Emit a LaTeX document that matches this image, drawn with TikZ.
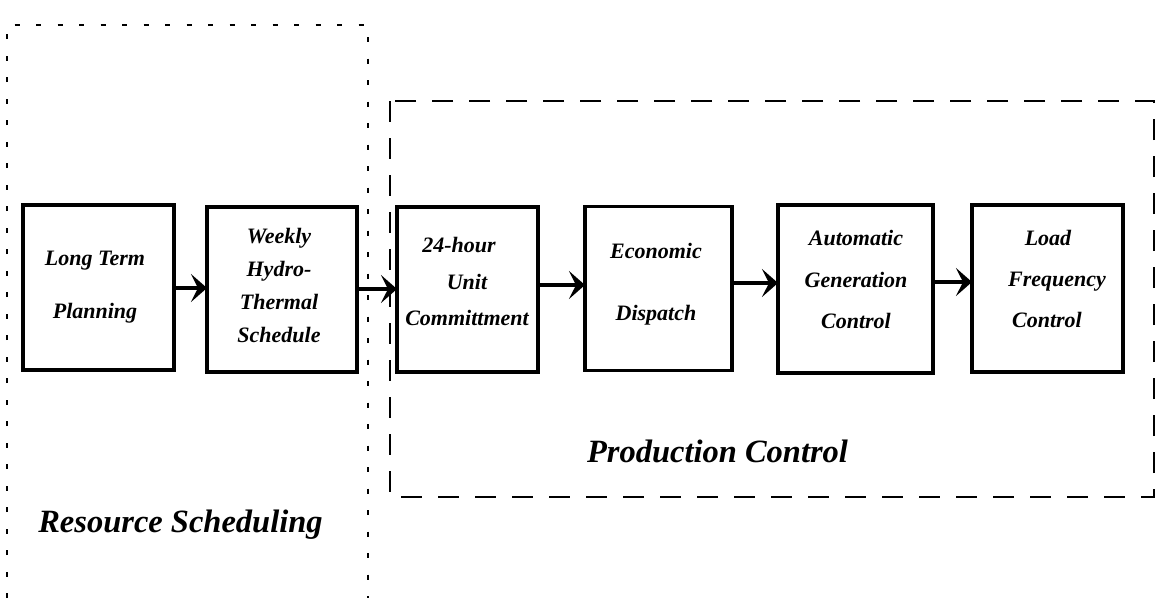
\documentclass[tikz,border=0pt]{standalone}
\usepackage{fontspec}
\setmainfont{Liberation Serif}
\usetikzlibrary{arrows.meta}
\begin{document}
\begin{tikzpicture}[x=1pt,y=-1pt,
  stagebox/.style={draw,line width=3.2pt,outer sep=0pt,inner sep=0pt},
  boxlabel/.style={align=center,inner sep=0pt,font=\bfseries\itshape\fontsize{22}{#1}\selectfont},
  bigtitle/.style={anchor=base,inner sep=0pt,font=\bfseries\itshape\fontsize{32.5}{38}\selectfont},
  flow/.style={line width=3.4pt,-{Stealth[length=16pt,width=28pt,inset=7pt]}},
  dotframe/.style={line width=2.2pt,dash pattern=on 5pt off 16.5pt},
  dashframe/.style={line width=1.6pt,dash pattern=on 21pt off 16pt}]
\useasboundingbox[fill=white] (0,0) rectangle (1158,598);

% frames
\draw[dotframe] (7,598) -- (7,25) -- (368,25) -- (368,598);
\draw[dashframe] (390,101) rectangle (1154,497);

% boxes
\node[stagebox,minimum width=151pt,minimum height=165pt] (b1) at (98.5,287.5) {};
\node[stagebox,minimum width=150pt,minimum height=165pt] (b2) at (282,289.5) {};
\node[stagebox,minimum width=141pt,minimum height=165pt] (b3) at (467.5,289.5) {};
\node[stagebox,minimum width=147pt,minimum height=164pt] (b4) at (658.5,288.5) {};
\node[stagebox,minimum width=155pt,minimum height=168pt] (b5) at (855.5,289) {};
\node[stagebox,minimum width=151pt,minimum height=167pt] (b6) at (1047.5,288.5) {};

% labels
\node[boxlabel=53] (l1) at (95,287) {Long Term\\Planning};
\node[boxlabel=33] (l2) at (279,285) {Weekly\\Hydro-\\Thermal\\Schedule};
\node[boxlabel=36.5] (l3) at (467,281.5) {24-hour\hspace*{16pt}\\Unit\hspace*{10pt}\\Committment};
\node[boxlabel=62] (l4) at (656,284.5) {Economic\\Dispatch};
\node[boxlabel=41.5] (l5) at (856,279.5) {Automatic\\Generation\\Control};
\node[boxlabel=41] (l6) at (1057,279) {Load\hspace*{18pt}\\Frequency\\Control\hspace*{20pt}};

\node[bigtitle] (rs) at (180.5,532) {Resource Scheduling};
\node[bigtitle] (pc) at (717.5,462) {Production Control};

% connectors
\draw[flow] (b1.east |- 0,288) -- (b2.west |- 0,288);
\draw[flow] (b2.east |- 0,289) -- (b3.west |- 0,289);
\draw[flow] (b3.east |- 0,285) -- (b4.west |- 0,285);
\draw[flow] (b4.east |- 0,283) -- (b5.west |- 0,283);
\draw[flow] (b5.east |- 0,282) -- (b6.west |- 0,282);
\end{tikzpicture}
\end{document}
